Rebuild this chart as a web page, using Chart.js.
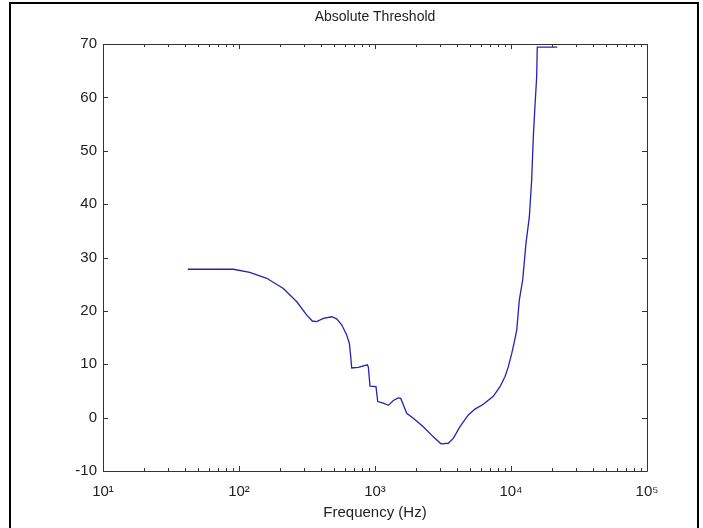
<!DOCTYPE html>
<html>
<head>
<meta charset="utf-8">
<script src="https://cdn.jsdelivr.net/npm/chart.js@4"></script>
<style>
  html, body { margin: 0; padding: 0; background: #fff; }
  #wrap { position: relative; width: 703px; height: 528px; overflow: hidden; }
  #c { position: absolute; left: 0; top: 0; }
  #frame { position: absolute; left: 9px; top: 2px; width: 686px; height: 540px; border: 2px solid #000; pointer-events: none; }
</style>
</head>
<body>
<div id="wrap">
  <canvas id="c" width="703" height="528"></canvas>
  <div id="frame"></div>
</div>
<script>
// ---- data ----
const freqHz = [42, 91, 120, 160, 212, 266, 315, 346, 373, 417, 481, 522, 569, 619, 648, 663, 674, 754, 878, 893, 919, 1017, 1047, 1151, 1253, 1364, 1483, 1545, 1615, 1710, 1914, 2265, 2684, 3056, 3459, 3765, 4217, 4855, 5433, 6254, 7409, 8298, 9036, 9550, 10120, 10520, 11020, 11510, 12190, 12890, 13640, 14190, 14590, 15000, 15450, 15600, 21880];
const thresholdDb = [27.8, 27.8, 27.2, 26.1, 24.2, 21.7, 19.2, 18.1, 18.0, 18.6, 18.9, 18.5, 17.4, 15.5, 13.9, 11.4, 9.3, 9.4, 9.9, 9.5, 5.9, 5.8, 3.0, 2.7, 2.3, 3.2, 3.7, 3.6, 2.4, 0.8, -0.1, -1.7, -3.6, -4.9, -4.8, -3.9, -1.7, 0.5, 1.6, 2.5, 4.0, 5.8, 7.7, 9.5, 12.0, 13.9, 16.4, 22.0, 25.8, 32.7, 37.6, 44.5, 52.6, 58.3, 63.9, 69.4, 69.4];
const xDecades = [10, 100, 1000, 10000, 100000];
const xDecadeLabels = ['10\u00B9', '10\u00B2', '10\u00B3', '10\u2074', '10\u2075'];
const xMinorMultipliers = [2, 3, 4, 5, 6, 7, 8, 9];
const yTickValues = [-10, 0, 10, 20, 30, 40, 50, 60, 70];
const chartTitle = 'Absolute Threshold';
const xAxisTitle = 'Frequency (Hz)';

const FONT = "'Liberation Sans', Arial, 'DejaVu Sans', sans-serif";
const AXIS_COLOR = '#333';

const points = freqHz.map((f, i) => ({ x: f, y: thresholdDb[i] }));

const xTicksAll = [];
xDecades.forEach((d, i) => {
  xTicksAll.push({ value: d, major: true });
  if (i < xDecades.length - 1) xMinorMultipliers.forEach(m => xTicksAll.push({ value: d * m, major: false }));
});

const matlabBox = {
  id: 'matlabBox',
  afterLayout(chart) {
    // center the title over the plot area, as MATLAB does
    const tb = chart.titleBlock, a = chart.chartArea;
    if (tb && a) { tb.left = a.left; tb.right = a.right; tb.width = a.right - a.left; }
  },
  afterDraw(chart) {
    const { ctx, chartArea: a, scales } = chart;
    ctx.save();
    ctx.strokeStyle = AXIS_COLOR;
    ctx.lineWidth = 1;
    ctx.beginPath();
    ctx.rect(Math.round(a.left) + 0.5, Math.round(a.top) + 0.5, Math.round(a.right - a.left), Math.round(a.bottom - a.top));
    ctx.stroke();
    ctx.beginPath();
    scales.x.ticks.forEach(t => {
      const px = Math.round(scales.x.getPixelForValue(t.value)) + 0.5;
      const len = t.major ? 5 : 3;
      ctx.moveTo(px, a.bottom); ctx.lineTo(px, a.bottom - len);
      ctx.moveTo(px, a.top); ctx.lineTo(px, a.top + len);
    });
    scales.y.ticks.forEach(t => {
      const py = Math.round(scales.y.getPixelForValue(t.value)) + 0.5;
      ctx.moveTo(a.left, py); ctx.lineTo(a.left + 5, py);
      ctx.moveTo(a.right, py); ctx.lineTo(a.right - 5, py);
    });
    ctx.stroke();
    ctx.restore();
  }
};

new Chart(document.getElementById('c'), {
  type: 'line',
  data: {
    datasets: [{
      data: points,
      borderColor: '#2323b4',
      borderWidth: 1.3,
      pointRadius: 0,
      tension: 0,
      fill: false
    }]
  },
  options: {
    responsive: false,
    animation: false,
    devicePixelRatio: 1,
    layout: { padding: { left: 0, right: 56, top: 0, bottom: 0 } },
    plugins: {
      legend: { display: false },
      tooltip: { enabled: false },
      title: {
        display: true,
        text: chartTitle,
        color: '#222',
        font: { family: FONT, size: 14, weight: 'normal', lineHeight: 1.2 },
        padding: { top: 9.2, bottom: 18 }
      }
    },
    scales: {
      x: {
        type: 'logarithmic',
        position: 'bottom',
        min: 10,
        max: 100000,
        grid: { display: false, drawTicks: false },
        border: { display: false },
        afterBuildTicks(scale) { scale.ticks = xTicksAll.map(t => ({ value: t.value, major: t.major })); },
        afterFit(scale) { scale.height = 57; },
        ticks: {
          autoSkip: false,
          maxRotation: 0,
          padding: 12,
          color: '#222',
          font: { family: FONT, size: 15 },
          callback(value) {
            const i = xDecades.indexOf(value);
            return i >= 0 ? xDecadeLabels[i] : '';
          }
        },
        title: {
          display: true,
          text: xAxisTitle,
          color: '#222',
          font: { family: FONT, size: 15 },
          padding: { top: 0, bottom: 6 }
        }
      },
      y: {
        type: 'linear',
        min: -10,
        max: 70,
        grid: { display: false, drawTicks: false },
        border: { display: false },
        afterBuildTicks(scale) { scale.ticks = yTickValues.map(v => ({ value: v })); },
        afterFit(scale) { scale.width = 103; },
        ticks: {
          padding: 6,
          color: '#222',
          font: { family: FONT, size: 15 }
        }
      }
    }
  },
  plugins: [matlabBox]
});
</script>
</body>
</html>
